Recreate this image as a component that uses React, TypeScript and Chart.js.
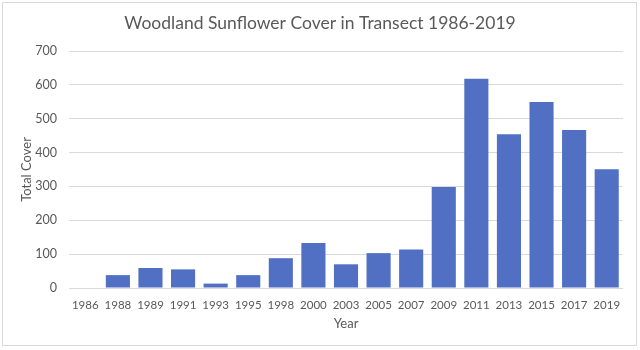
import React, { useEffect, useRef } from "react";
import { Chart, registerables } from "chart.js";

Chart.register(...registerables);

const years = ["1986", "1988", "1989", "1991", "1993", "1995", "1998", "2000", "2003", "2005", "2007", "2009", "2011", "2013", "2015", "2017", "2019"];
const totalCover = [0, 38, 59, 55, 13, 38, 88, 133, 70, 103, 114, 298, 618, 454, 549, 467, 351];
const yTicks = [0, 100, 200, 300, 400, 500, 600, 700];

const chartTitle = "Woodland Sunflower Cover in Transect 1986-2019";
const xTitle = "Year";
const yTitle = "Total Cover";

const FONT = "Lato, 'Open Sans', sans-serif";
const TEXT = "#595959";

const frame = {
  id: "frame",
  beforeDraw(chart: any) {
    const ctx = chart.ctx;
    ctx.save();
    ctx.fillStyle = "#ffffff";
    ctx.fillRect(0, 0, chart.width, chart.height);
    ctx.strokeStyle = "#d9d9d9";
    ctx.lineWidth = 1;
    ctx.strokeRect(2.5, 2.5, 634, 343);
    ctx.restore();
  },
};

export default function App() {
  const ref = useRef<HTMLCanvasElement>(null);
  useEffect(() => {
    document.body.style.margin = "0";
    const chart = new Chart(ref.current as HTMLCanvasElement, {
      type: "bar",
      data: {
        labels: years,
        datasets: [
          {
            data: totalCover,
            backgroundColor: "#5170C4",
            barPercentage: 0.74,
            categoryPercentage: 1,
          },
        ],
      },
      options: {
        animation: false,
        responsive: false,
        maintainAspectRatio: false,
        layout: { padding: { left: 17, right: 17, top: 0, bottom: 12 } },
        plugins: {
          legend: { display: false },
          tooltip: { enabled: false },
          title: {
            display: true,
            text: chartTitle,
            color: TEXT,
            font: { family: FONT, size: 17.5, weight: "normal" },
            padding: { top: 13, bottom: 17 },
          },
        },
        scales: {
          x: {
            grid: { display: false, drawTicks: false },
            border: { display: false },
            ticks: { color: TEXT, font: { family: FONT, size: 11.5 }, padding: 10, maxRotation: 0, autoSkip: false },
            title: { display: true, text: xTitle, color: TEXT, font: { family: FONT, size: 13 }, padding: { top: 0, bottom: 6 } },
            afterFit(scale: any) { scale.height = 50; },
          },
          y: {
            min: 0,
            max: 700,
            afterBuildTicks(scale: any) { scale.ticks = yTicks.map((v) => ({ value: v })); },
            grid: { color: "#d9d9d9", drawTicks: false },
            border: { display: false },
            ticks: { color: TEXT, font: { family: FONT, size: 12.5 }, padding: 12 },
            title: { display: true, text: yTitle, color: TEXT, font: { family: FONT, size: 13 }, padding: { top: 2, bottom: 4 } },
            afterFit(scale: any) { scale.width = 52; },
          },
        },
      },
      plugins: [frame],
    });
    return () => chart.destroy();
  }, []);
  return (
    <div style={{ position: "absolute", left: 0, top: 0, width: 640, height: 350 }}>
      <canvas ref={ref} width={640} height={350} style={{ width: 640, height: 350 }} />
    </div>
  );
}
